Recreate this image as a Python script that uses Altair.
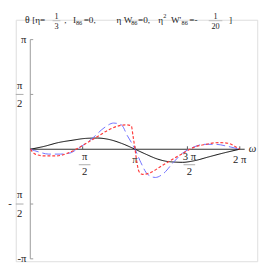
import math
import altair as alt
import pandas as pd

PI = math.pi

# ---- curve data (omega in rad, theta in rad) ----
black_omega = [0, 0.41, 0.84, 1.28, 1.66, 2.01, 2.36, 2.73, PI, 3.46, 3.81, 4.19, 4.57, 4.92, 5.35, 5.79, 2 * PI]
black_theta = [0, 0.08, 0.19, 0.26, 0.31, 0.32, 0.28, 0.17, 0, -0.14, -0.28, -0.36, -0.375, -0.33, -0.22, -0.11, 0]

blue_omega = [0, 0.26, 0.55, 0.90, 1.19, 1.40, 1.86, 2.21, 2.50, 2.73, 2.91, PI, 3.32, 3.52, 3.75, 3.99, 4.28, 4.57, 4.83, 5.21, 5.56, 5.93, 2 * PI]
blue_theta = [0, -0.08, -0.14, -0.14, -0.11, 0.0, 0.31, 0.61, 0.75, 0.70, 0.39, 0, -0.39, -0.72, -0.81, -0.70, -0.39, -0.11, 0.03, 0.14, 0.14, 0.08, 0]

red_omega = [0, 0.15, 0.41, 0.79, 1.13, 1.43, 1.72, 2.01, 2.36, 2.65, 2.88, 3.03, 3.08, PI, 3.20, 3.26, 3.37, 3.61, 3.90, 4.19, 4.48, 4.68, 4.92, 5.27, 5.64, 5.93, 6.14, 2 * PI]
red_theta = [0, -0.14, -0.19, -0.19, -0.11, 0.03, 0.19, 0.36, 0.56, 0.67, 0.70, 0.67, 0.39, 0, -0.39, -0.64, -0.72, -0.67, -0.50, -0.33, -0.17, -0.06, 0.06, 0.14, 0.19, 0.17, 0.08, 0]

# ---- axis ticks / labels ----
x_tick_vals = [PI / 2, PI, 3 * PI / 2, 2 * PI]
x_frac_vals = [PI / 2, 3 * PI / 2]
x_frac_num = ["π", "3 π"]
x_frac_den = ["2", "2"]
x_plain_vals = [PI, 2 * PI]
x_plain_txt = ["π", "2 π"]

y_tick_vals = [PI, PI / 2, -PI / 2, -PI]
y_frac_vals = [PI / 2, -PI / 2]
y_frac_sign = ["", "-"]
y_plain_vals = [PI, -PI]
y_plain_txt = ["π", "-π"]

x_axis_end = 6.43

xs = alt.Scale(domain=[-0.436, 6.807], nice=False, zero=False)
ys = alt.Scale(domain=[-3.211, 3.711], nice=False, zero=False)

def X(f="x"):
    return alt.X(f"{f}:Q", scale=xs, axis=None)

def Y(f="y"):
    return alt.Y(f"{f}:Q", scale=ys, axis=None)

FONT = "Liberation Serif"

# axes
xaxis = alt.Chart(pd.DataFrame({"x": [0], "x2": [x_axis_end], "y": [0]})).mark_rule(
    color="#333333", strokeWidth=1.2).encode(x=X(), x2="x2:Q", y=Y())
yaxis = alt.Chart(pd.DataFrame({"x": [0], "y": [-PI], "y2": [PI]})).mark_rule(
    color="#999999", strokeWidth=1).encode(x=X(), y=Y(), y2="y2:Q")

xticks = alt.Chart(pd.DataFrame({"x": x_tick_vals, "y": [0] * 4})).mark_rule(
    color="#555555", y2Offset=-3).encode(x=X(), y=Y(), y2="y:Q")
yticks = alt.Chart(pd.DataFrame({"x": [0] * 4, "y": y_tick_vals})).mark_rule(
    color="#999999", x2Offset=3).encode(x=X(), y=Y(), x2="x:Q")

def txt(df, dx=0, dy=0, size=11, align="center", color="#222222", italic=False):
    return alt.Chart(df).mark_text(
        dx=dx, dy=dy, fontSize=size, font=FONT, align=align, baseline="middle",
        color=color, fontStyle="italic" if italic else "normal"
    ).encode(x=X(), y=Y(), text="t:N")

dfxf = pd.DataFrame({"x": x_frac_vals, "y": [0] * 2, "t": x_frac_num})
dfxd = pd.DataFrame({"x": x_frac_vals, "y": [0] * 2, "t": x_frac_den})
dfxp = pd.DataFrame({"x": x_plain_vals, "y": [0] * 2, "t": x_plain_txt})
xlab_num = txt(dfxf, dx=2, dy=8)
xlab_den = txt(dfxd, dx=2, dy=24)
xlab_plain = txt(dfxp, dx=0, dy=11)
xbars = alt.Chart(pd.DataFrame({"x": x_frac_vals, "y": [0] * 2})).mark_rule(
    color="#aaaaaa", xOffset=-4, x2Offset=8, yOffset=16, y2Offset=16).encode(
    x=X(), x2="x:Q", y=Y(), y2="y:Q")

dfyn = pd.DataFrame({"x": [0] * 2, "y": y_frac_vals, "t": ["π", "π"]})
dfyd = pd.DataFrame({"x": [0] * 2, "y": y_frac_vals, "t": ["2", "2"]})
dfys = pd.DataFrame({"x": [0] * 2, "y": y_frac_vals, "t": y_frac_sign})
dfyp = pd.DataFrame({"x": [0] * 2, "y": y_plain_vals, "t": y_plain_txt})
ylab_num = txt(dfyn, dx=-11, dy=-9)
ylab_den = txt(dfyd, dx=-11, dy=10)
ylab_sign = txt(dfys, dx=-21, dy=0)
ylab_plain = txt(dfyp, dx=-4, dy=0, align="right")
ybars = alt.Chart(pd.DataFrame({"x": [0] * 2, "y": y_frac_vals})).mark_rule(
    color="#aaaaaa", xOffset=-15, x2Offset=-7).encode(x=X(), x2="x:Q", y=Y(), y2="y:Q")

omega_lab = txt(pd.DataFrame({"x": [x_axis_end], "y": [0], "t": ["ω"]}), dx=8, dy=0, italic=True)

# curves
def curve(om, th, color, dash, width=1):
    df = pd.DataFrame({"x": om, "y": th, "i": range(len(om))})
    return alt.Chart(df).mark_line(
        color=color, strokeDash=dash, strokeWidth=width, interpolate="monotone"
    ).encode(x=X(), y=Y(), order="i:Q")

c_black = curve(black_omega, black_theta, "#000000", [1, 0], 1)
c_blue = curve(blue_omega, blue_theta, "#6f6fff", [9, 4], 1)
c_red = curve(red_omega, red_theta, "#ff3b3b", [3, 2], 1.2)

# title pieces (text only)
def tpiece(t, x, y, size=9.5, align="left", italic=False):
    return alt.Chart(pd.DataFrame({"t": [t]})).mark_text(
        x=x, y=y, fontSize=size, font=FONT, align=align, baseline="middle",
        color="#222222", fontStyle="italic" if italic else "normal"
    ).encode(text="t:N")

def tbar(x1, x2, y):
    return alt.Chart(pd.DataFrame({"a": [0]})).mark_rule(color="#bbbbbb").encode(
        x=alt.value(x1), x2=alt.value(x2), y=alt.value(y))

title = [
    tpiece("θ", 12, 0, size=10, align="center"),
    tpiece("[η=", 17, 0),
    tpiece("1", 42, -4, size=8.5, align="center"),
    tbar(38, 46, 1),
    tpiece("3", 42, 7, size=8.5, align="center"),
    tpiece(",", 50, 0),
    tpiece("I", 59, 0),
    tpiece("86", 62, 3, size=6.5),
    tpiece("=0,", 70, 0),
    tpiece("η W", 104, 0),
    tpiece("86", 119, 3, size=6.5),
    tpiece("=0,", 126, 0),
    tpiece("η", 147, 0),
    tpiece("2", 152, -4, size=6.5),
    tpiece("W'", 160, 0),
    tpiece("86", 171, 3, size=6.5),
    tpiece("=-", 179, 0),
    tpiece("1", 206, -4, size=8.5, align="center"),
    tbar(199, 213, 1),
    tpiece("20", 206, 7, size=8.5, align="center"),
    tpiece("]", 220, 0),
]

chart = alt.layer(
    yaxis, yticks, xaxis, xticks,
    xlab_num, xlab_den, xlab_plain, xbars,
    ylab_num, ylab_den, ylab_sign, ylab_plain, ybars, omega_lab,
    c_black, c_blue, c_red,
    *title,
).properties(
    width=249, height=249, autosize=alt.AutoSizeParams(type="none"),
    padding={"left": 8, "top": 8, "right": 8, "bottom": 8}
).configure_view(stroke=None).configure(background="white")

chart.save("out.html", embed_options={"renderer": "svg", "actions": False})
